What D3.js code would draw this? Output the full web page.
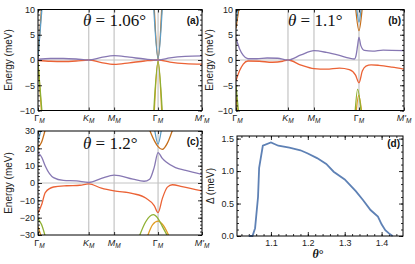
<!DOCTYPE html>
<html><head><meta charset="utf-8">
<script src="https://cdn.jsdelivr.net/npm/d3@7"></script>
<style>body{margin:0;background:#fff}svg{display:block}</style>
</head><body><svg id="c" width="415" height="264"></svg>
<script>
// k-path (moiré BZ): Γ–K–M–Γ–M'
const kMain = ["Γ","K","M","Γ","M'"];
const kItalic = [false,true,true,false,true];
const kPath = [0, 1, 1.5, 2.366, 3.232];

// Panel (a) θ = 1.06°
const aPurple = [[0,0.15],[0.25,0.3],[0.5,0.3],[0.75,0.2],[1,0],[1.25,0.5],[1.5,0.85],[1.8,0.55],[2.1,0.2],[2.366,0],[2.6,0.4],[2.9,0.7],[3.232,0.8]];
const aRed = [[0,-0.1],[0.25,-0.25],[0.5,-0.3],[0.75,-0.2],[1,0],[1.25,-0.5],[1.5,-0.85],[1.8,-0.55],[2.1,-0.2],[2.366,0],[2.6,-0.4],[2.9,-0.7],[3.232,-0.8]];
const aBlue = [[0,0.5],[0.08,10.5],null,[2.28,10.5],[2.366,0.3],[2.45,10.5]];
const aDOrange = [[0,0.3],[0.07,10.5],null,[2.29,10.5],[2.366,0.2],[2.44,10.5]];
const aGreen = [[0,-0.5],[0.08,-10.5],null,[2.28,-10.5],[2.366,-0.3],[2.45,-10.5]];
const aOrange = [[0,-0.3],[0.07,-10.5],null,[2.29,-10.5],[2.366,-0.2],[2.44,-10.5]];

// Panel (b) θ = 1.1°
const bPurple = [[0,4.3],[0.07,2.2],[0.14,0.9],[0.23,0.25],[0.4,0.25],[0.6,0.4],[0.8,0.35],[1,0],[1.25,1.0],[1.5,1.85],[1.74,1.5],[1.99,0.9],[2.18,0.35],[2.28,0.2],[2.31,0.9],[2.34,2.9],[2.366,4.5],[2.40,2.9],[2.47,1.9],[2.63,1.75],[2.83,1.95],[3.232,1.85]];
const bRed = [[0,-4.1],[0.07,-2.1],[0.14,-0.8],[0.23,-0.2],[0.45,-0.25],[0.7,-0.45],[0.9,-0.25],[1,0],[1.25,-1.0],[1.5,-1.7],[1.74,-1.8],[1.99,-1.6],[2.18,-1.9],[2.30,-3.0],[2.366,-4.5],[2.43,-2.2],[2.5,-1.2],[2.6,-0.95],[2.75,-1.05],[3.0,-1.4],[3.232,-1.8]];
const bBlue = [[0,7.5],[0.04,10.5],null,[2.32,10.5],[2.366,7.5],[2.41,10.5]];
const bDOrange = [[0,6.3],[0.06,10.5],null,[2.30,10.5],[2.366,5.8],[2.43,10.5]];
const bGreen = [[0,-5],[0.05,-10.5],null,[2.29,-10.5],[2.34,-5.8],[2.41,-10.5]];
const bOrange = [[0,-7],[0.03,-10.5],null,[2.31,-10.5],[2.36,-7],[2.42,-10.5]];

// Panel (c) θ = 1.2°
const cPurple = [[0,17.5],[0.078,14.6],[0.143,9.8],[0.306,3.1],[0.5,1.5],[0.76,1.2],[1,0.3],[1.25,2.6],[1.5,4.6],[1.87,2.2],[2.09,1.0],[2.2,2.2],[2.29,9],[2.366,17.5],[2.45,14.2],[2.52,12.2],[2.71,8.9],[2.91,7.3],[3.232,5.0]];
const cRed = [[0,-17.5],[0.078,-12],[0.143,-5.5],[0.306,-2.3],[0.566,-1.6],[0.826,-1.3],[1,-0.5],[1.25,-3],[1.5,-4.6],[1.87,-6.1],[2.13,-8.8],[2.29,-13],[2.366,-17.1],[2.45,-9],[2.55,-2.4],[2.647,-1.0],[2.84,-2.1],[3.232,-4.6]];
const cBlue = [[0,24],[0.06,30.5],null,[2.3,30.5],[2.366,22.5],[2.43,30.5]];
const cDOrange = [[0,20.5],[0.07,23.5],[0.14,30.5],null,[2.2,30.5],[2.3,24],[2.366,21],[2.45,19.4],[2.55,23],[2.65,30.5]];
const cGreen = [[0,-20.5],[0.07,-24],[0.14,-30.5],null,[2.0,-30.5],[2.12,-22.5],[2.27,-18.3],[2.366,-20.5],[2.45,-25],[2.55,-30.5]];
const cOrange = [[0,-25],[0.06,-30.5],null,[2.16,-30.5],[2.26,-24],[2.366,-22],[2.47,-24.5],[2.58,-30.5]];

// Panel (d) gap vs twist angle
const thetaVals = [1.04,1.05,1.057,1.065,1.068,1.078,1.10,1.12,1.15,1.18,1.20,1.225,1.25,1.27,1.30,1.33,1.35,1.37,1.39,1.40,1.41,1.42,1.43];
const gapVals = [0,0,0.12,0.6,1.05,1.39,1.44,1.39,1.36,1.32,1.27,1.20,1.11,0.99,0.87,0.69,0.55,0.40,0.30,0.18,0.09,0.04,0];
const dXTicks = [1.1,1.2,1.3,1.4];
const dYTicks = [0,0.5,1.0,1.5];

const col = {purple:"#8778B3", red:"#EB6235", blue:"#5D9EC7", dorange:"#C56E1A", green:"#8FB032", orange:"#E19C24"};
const svg = d3.select("#c");
const SANS = "Liberation Sans, Arial, sans-serif";
const SERIF = "Liberation Serif, Times New Roman, serif";

function styleAxis(s){
  s.select(".domain").remove();
  s.selectAll(".tick line").attr("stroke","#000").attr("stroke-width",0.8);
  s.selectAll(".tick text").attr("font-family",SANS).attr("font-size","9px").attr("fill","#222");
}

function bandPanel(p){
  const x = d3.scaleLinear().domain([0,kPath[4]]).range([p.x0,p.x1]);
  const y = d3.scaleLinear().domain(p.ydom).range([p.y1,p.y0]);
  const g = svg.append("g");
  const id = "clip"+p.tag;
  svg.append("clipPath").attr("id",id).append("rect")
    .attr("x",p.x0).attr("y",p.y0).attr("width",p.x1-p.x0).attr("height",p.y1-p.y0);
  g.selectAll("line.kl").data(kPath.slice(1,4)).join("line")
    .attr("x1",d=>x(d)).attr("x2",d=>x(d)).attr("y1",p.y0).attr("y2",p.y1)
    .attr("stroke","#c4c4c4").attr("stroke-width",1.2);
  g.append("line").attr("x1",p.x0).attr("x2",p.x1).attr("y1",y(0)).attr("y2",y(0))
    .attr("stroke","#c4c4c4").attr("stroke-width",1);
  const line = d3.line().defined(d=>d).x(d=>x(d[0])).y(d=>y(d[1])).curve(d3.curveMonotoneX);
  const bg = g.append("g").attr("clip-path",`url(#${id})`);
  p.bands.forEach(b=>bg.append("path").attr("d",line(b[0])).attr("fill","none")
    .attr("stroke",b[1]).attr("stroke-width",1.3));
  const minor = d3.range(p.ydom[0],p.ydom[1]+1e-9,p.minor);
  g.append("g").attr("transform",`translate(${p.x0},0)`)
    .call(d3.axisLeft(y).tickValues(minor).tickSize(-2).tickFormat("")).call(styleAxis);
  g.append("g").attr("transform",`translate(${p.x1},0)`)
    .call(d3.axisRight(y).tickValues(minor).tickSize(-2).tickFormat("")).call(styleAxis);
  g.append("g").attr("transform",`translate(${p.x0},0)`)
    .call(d3.axisLeft(y).tickValues(p.yticks).tickSize(-4).tickPadding(3)).call(styleAxis);
  g.append("g").attr("transform",`translate(${p.x1},0)`)
    .call(d3.axisRight(y).tickValues(p.yticks).tickSize(-4).tickFormat("")).call(styleAxis);
  g.append("g").attr("transform",`translate(0,${p.y1})`)
    .call(d3.axisBottom(x).tickValues(kPath).tickSize(-3).tickFormat("")).call(styleAxis);
  g.append("g").attr("transform",`translate(0,${p.y0})`)
    .call(d3.axisTop(x).tickValues(kPath).tickSize(-3).tickFormat("")).call(styleAxis);
  g.append("rect").attr("x",p.x0).attr("y",p.y0).attr("width",p.x1-p.x0).attr("height",p.y1-p.y0)
    .attr("fill","none").attr("stroke","#000").attr("stroke-width",1);
  kPath.forEach((k,i)=>{
    const t = g.append("text").attr("x",x(k)+(i===0?1.5:0)).attr("y",p.y1+10.5).attr("text-anchor","middle")
      .attr("font-family",SANS).attr("font-size","9px").attr("fill","#222");
    t.append("tspan").attr("font-style",kItalic[i]?"italic":"normal").text(kMain[i]);
    t.append("tspan").attr("font-style","italic").attr("font-size","6.5px").attr("dy",2).text("M");
  });
  g.append("text").attr("transform",`translate(${p.ylx},${(p.y0+p.y1)/2}) rotate(-90)`)
    .attr("text-anchor","middle").attr("font-family",SANS).attr("font-size","10px").attr("fill","#222")
    .text("Energy (meV)");
  const t = g.append("text").attr("x",p.tx).attr("y",p.ty).attr("font-family",SERIF).attr("font-size","17px").attr("fill","#111");
  t.append("tspan").attr("font-style","italic").text("θ");
  t.append("tspan").text(" = "+p.ang+"°");
  g.append("text").attr("x",p.x1-3).attr("y",p.y0+14).attr("text-anchor","end")
    .attr("font-family",SANS).attr("font-weight","bold").attr("font-size","10px").attr("fill","#111").text("("+p.tag+")");
}

bandPanel({tag:"a",x0:38,x1:202,y0:9.5,y1:110.5,ydom:[-10,10],yticks:[-10,-5,0,5,10],minor:1,ylx:12,tx:83,ty:26,ang:"1.06",
  bands:[[aDOrange,col.dorange],[aBlue,col.blue],[aOrange,col.orange],[aGreen,col.green],[aRed,col.red],[aPurple,col.purple]]});
bandPanel({tag:"b",x0:236,x1:404,y0:9.5,y1:110.5,ydom:[-10,10],yticks:[-10,-5,0,5,10],minor:1,ylx:213,tx:288,ty:26,ang:"1.1",
  bands:[[bDOrange,col.dorange],[bBlue,col.blue],[bOrange,col.orange],[bGreen,col.green],[bRed,col.red],[bPurple,col.purple]]});
bandPanel({tag:"c",x0:38,x1:202,y0:131,y1:235,ydom:[-30,30],yticks:[-30,-20,-10,0,10,20,30],minor:2,ylx:12,tx:83,ty:149,ang:"1.2",
  bands:[[cDOrange,col.dorange],[cBlue,col.blue],[cOrange,col.orange],[cGreen,col.green],[cRed,col.red],[cPurple,col.purple]]});

// Panel (d)
(function(){
  const x0=237,x1=403,y0=136,y1=236;
  const x = d3.scaleLinear().domain([1.008,1.458]).range([x0,x1]);
  const y = d3.scaleLinear().domain([0,1.54]).range([y1,y0]);
  const g = svg.append("g");
  const xm = d3.range(1.02,1.4501,0.02), ym = d3.range(0,1.5401,0.1);
  g.append("g").attr("transform",`translate(0,${y1})`).call(d3.axisBottom(x).tickValues(xm).tickSize(-2).tickFormat("")).call(styleAxis);
  g.append("g").attr("transform",`translate(0,${y0})`).call(d3.axisTop(x).tickValues(xm).tickSize(-2).tickFormat("")).call(styleAxis);
  g.append("g").attr("transform",`translate(${x0},0)`).call(d3.axisLeft(y).tickValues(ym).tickSize(-2).tickFormat("")).call(styleAxis);
  g.append("g").attr("transform",`translate(${x1},0)`).call(d3.axisRight(y).tickValues(ym).tickSize(-2).tickFormat("")).call(styleAxis);
  g.append("g").attr("transform",`translate(0,${y1})`).call(d3.axisBottom(x).tickValues(dXTicks).tickSize(-4).tickPadding(4).tickFormat(d3.format(".1f"))).call(styleAxis);
  g.append("g").attr("transform",`translate(0,${y0})`).call(d3.axisTop(x).tickValues(dXTicks).tickSize(-4).tickFormat("")).call(styleAxis);
  g.append("g").attr("transform",`translate(${x0},0)`).call(d3.axisLeft(y).tickValues(dYTicks).tickSize(-4).tickPadding(3).tickFormat(d3.format(".1f"))).call(styleAxis);
  g.append("g").attr("transform",`translate(${x1},0)`).call(d3.axisRight(y).tickValues(dYTicks).tickSize(-4).tickFormat("")).call(styleAxis);
  const pts = thetaVals.map((t,i)=>[t,gapVals[i]]);
  g.append("path").attr("d",d3.line().x(d=>x(d[0])).y(d=>y(d[1]))(pts)).attr("fill","none")
    .attr("stroke","#5E81B5").attr("stroke-width",1.8);
  g.append("rect").attr("x",x0).attr("y",y0).attr("width",x1-x0).attr("height",y1-y0)
    .attr("fill","none").attr("stroke","#000").attr("stroke-width",1);
  g.append("text").attr("x",x1-3).attr("y",y0+11).attr("text-anchor","end")
    .attr("font-family",SANS).attr("font-weight","bold").attr("font-size","10px").attr("fill","#111").text("(d)");
  g.append("text").attr("transform",`translate(214,${(y0+y1)/2}) rotate(-90)`).attr("text-anchor","middle")
    .attr("font-family",SANS).attr("font-size","10px").attr("fill","#222").text("Δ (meV)");
  const xl = g.append("text").attr("x",318).attr("y",258).attr("text-anchor","middle")
    .attr("font-family",SERIF).attr("font-size","12px").attr("font-weight","bold").attr("fill","#111");
  xl.append("tspan").attr("font-style","italic").text("θ");
  xl.append("tspan").text("°");
})();
</script></body></html>
